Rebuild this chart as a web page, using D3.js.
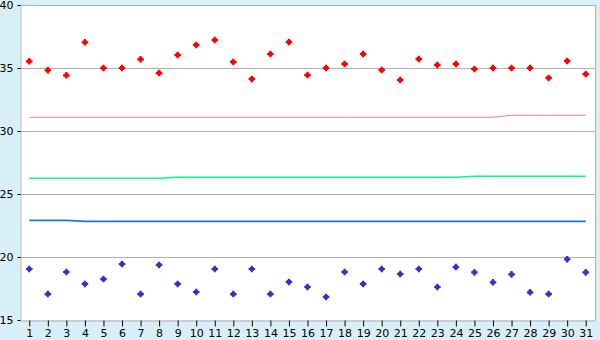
<!DOCTYPE html>
<html>
<head>
<meta charset="utf-8">
<script src="https://cdn.jsdelivr.net/npm/d3@7"></script>
<style>
  body { margin: 0; background: #d9eff7; }
  text { font-family: "DejaVu Sans", Verdana, sans-serif; font-size: 11px; fill: #000; }
</style>
</head>
<body>
<svg id="chart" width="600" height="340"></svg>
<script>
// data
const days = d3.range(1, 32);
const highs = [35.53, 34.82, 34.42, 37.04, 35.0, 35.0, 35.69, 34.6, 36.03, 36.83,
               37.22, 35.48, 34.13, 36.11, 37.06, 34.44, 35.0, 35.32, 36.11, 34.84,
               34.05, 35.71, 35.24, 35.32, 34.92, 35.0, 35.0, 35.0, 34.21, 35.56, 34.52];
const lows = [19.05, 17.06, 18.81, 17.86, 18.25, 19.44, 17.06, 19.37, 17.86, 17.22,
              19.05, 17.06, 19.05, 17.06, 18.02, 17.62, 16.83, 18.81, 17.86, 19.05,
              18.65, 19.05, 17.62, 19.2, 18.78, 17.99, 18.62, 17.2, 17.06, 19.82, 18.78];
const redLine = [31.09, 31.09, 31.09, 31.09, 31.09, 31.09, 31.09, 31.09, 31.09, 31.09,
                 31.09, 31.09, 31.09, 31.09, 31.09, 31.09, 31.09, 31.09, 31.09, 31.09,
                 31.09, 31.09, 31.09, 31.09, 31.09, 31.09, 31.25, 31.25, 31.25, 31.25, 31.25];
const greenLine = [26.25, 26.25, 26.25, 26.25, 26.25, 26.25, 26.25, 26.25, 26.33, 26.33,
                   26.33, 26.33, 26.33, 26.33, 26.33, 26.33, 26.33, 26.33, 26.33, 26.33,
                   26.33, 26.33, 26.33, 26.33, 26.41, 26.41, 26.41, 26.41, 26.41, 26.41, 26.41];
const blueLine = [22.91, 22.91, 22.91, 22.83, 22.83, 22.83, 22.83, 22.83, 22.83, 22.83,
                  22.83, 22.83, 22.83, 22.83, 22.83, 22.83, 22.83, 22.83, 22.83, 22.83,
                  22.83, 22.83, 22.83, 22.83, 22.83, 22.83, 22.83, 22.83, 22.83, 22.83, 22.83];
const yTicks = [15, 20, 25, 30, 35, 40];

const svg = d3.select("#chart");
var margins = {top: 5, right: 5, bottom: 20, left: 20};
var width = 600, height = 340;

var x = d3.scalePoint().domain(days).range([margins.left, width - margins.right]).padding(0.5);
var y = d3.scaleLinear().domain([15, 40]).range([height - margins.bottom, margins.top]);

// plot background
svg.append("rect")
   .attr("x", margins.left).attr("y", margins.top)
   .attr("width", width - margins.left - margins.right)
   .attr("height", height - margins.top - margins.bottom)
   .attr("fill", "#fff");

// gridlines
svg.append("g")
   .selectAll("line")
   .data(yTicks.slice(1))
   .join("line")
   .attr("x1", margins.left).attr("x2", width - margins.right)
   .attr("y1", d => Math.round(y(d)) + 0.5).attr("y2", d => Math.round(y(d)) + 0.5)
   .attr("stroke", "#b0b0b0");

// right border
svg.append("line")
   .attr("x1", width - margins.right + 0.5).attr("x2", width - margins.right + 0.5)
   .attr("y1", margins.top).attr("y2", height - margins.bottom)
   .attr("stroke", "#b0b0b0");

// left axis
let leftAxis = d3.axisLeft(y).tickValues(yTicks).tickSize(3).tickPadding(4);
let gl = svg.append("g")
   .attr("transform", `translate(${margins.left + 0.5},0)`)
   .call(leftAxis);
gl.select(".domain").attr("stroke", "#b0b0b0");
gl.selectAll(".tick line").attr("stroke", "#000");
gl.selectAll(".tick text").attr("font-size", 11).attr("font-family", "DejaVu Sans");

// bottom axis
let bottomAxis = d3.axisBottom(x).tickSize(6).tickSizeOuter(0).tickPadding(3);
let gb = svg.append("g")
   .attr("transform", `translate(0,${height - margins.bottom + 0.5})`)
   .call(bottomAxis);
gb.select(".domain").attr("stroke", "#b0b0b0");
gb.selectAll(".tick line").attr("stroke", "#000");
gb.selectAll(".tick text").attr("font-size", 11).attr("font-family", "DejaVu Sans");

// average lines
const lineGen = d3.line().x((d, i) => x(days[i])).y(d => y(d));
[[redLine, "#f08080", 1], [greenLine, "#00ff80", 1.6], [blueLine, "#1a78e0", 1.6]].forEach(s => {
  svg.append("path")
     .attr("d", lineGen(s[0]))
     .attr("fill", "none")
     .attr("stroke", s[1])
     .attr("stroke-width", s[2]);
});

// markers: a fat plus (cross over a small square)
const cross = d3.symbol(d3.symbolCross, 24);
const square = d3.symbol(d3.symbolSquare, 16);
function drawMarkers(vals, color) {
  let g = svg.append("g").selectAll("g")
     .data(vals)
     .join("g")
     .attr("transform", (d, i) => `translate(${x(days[i])},${y(d)})`)
     .attr("fill", color);
  g.append("path").attr("d", cross);
  g.append("path").attr("d", square);
}
drawMarkers(highs, "#ff0000");
drawMarkers(lows, "#3333cc");
</script>
</body>
</html>
